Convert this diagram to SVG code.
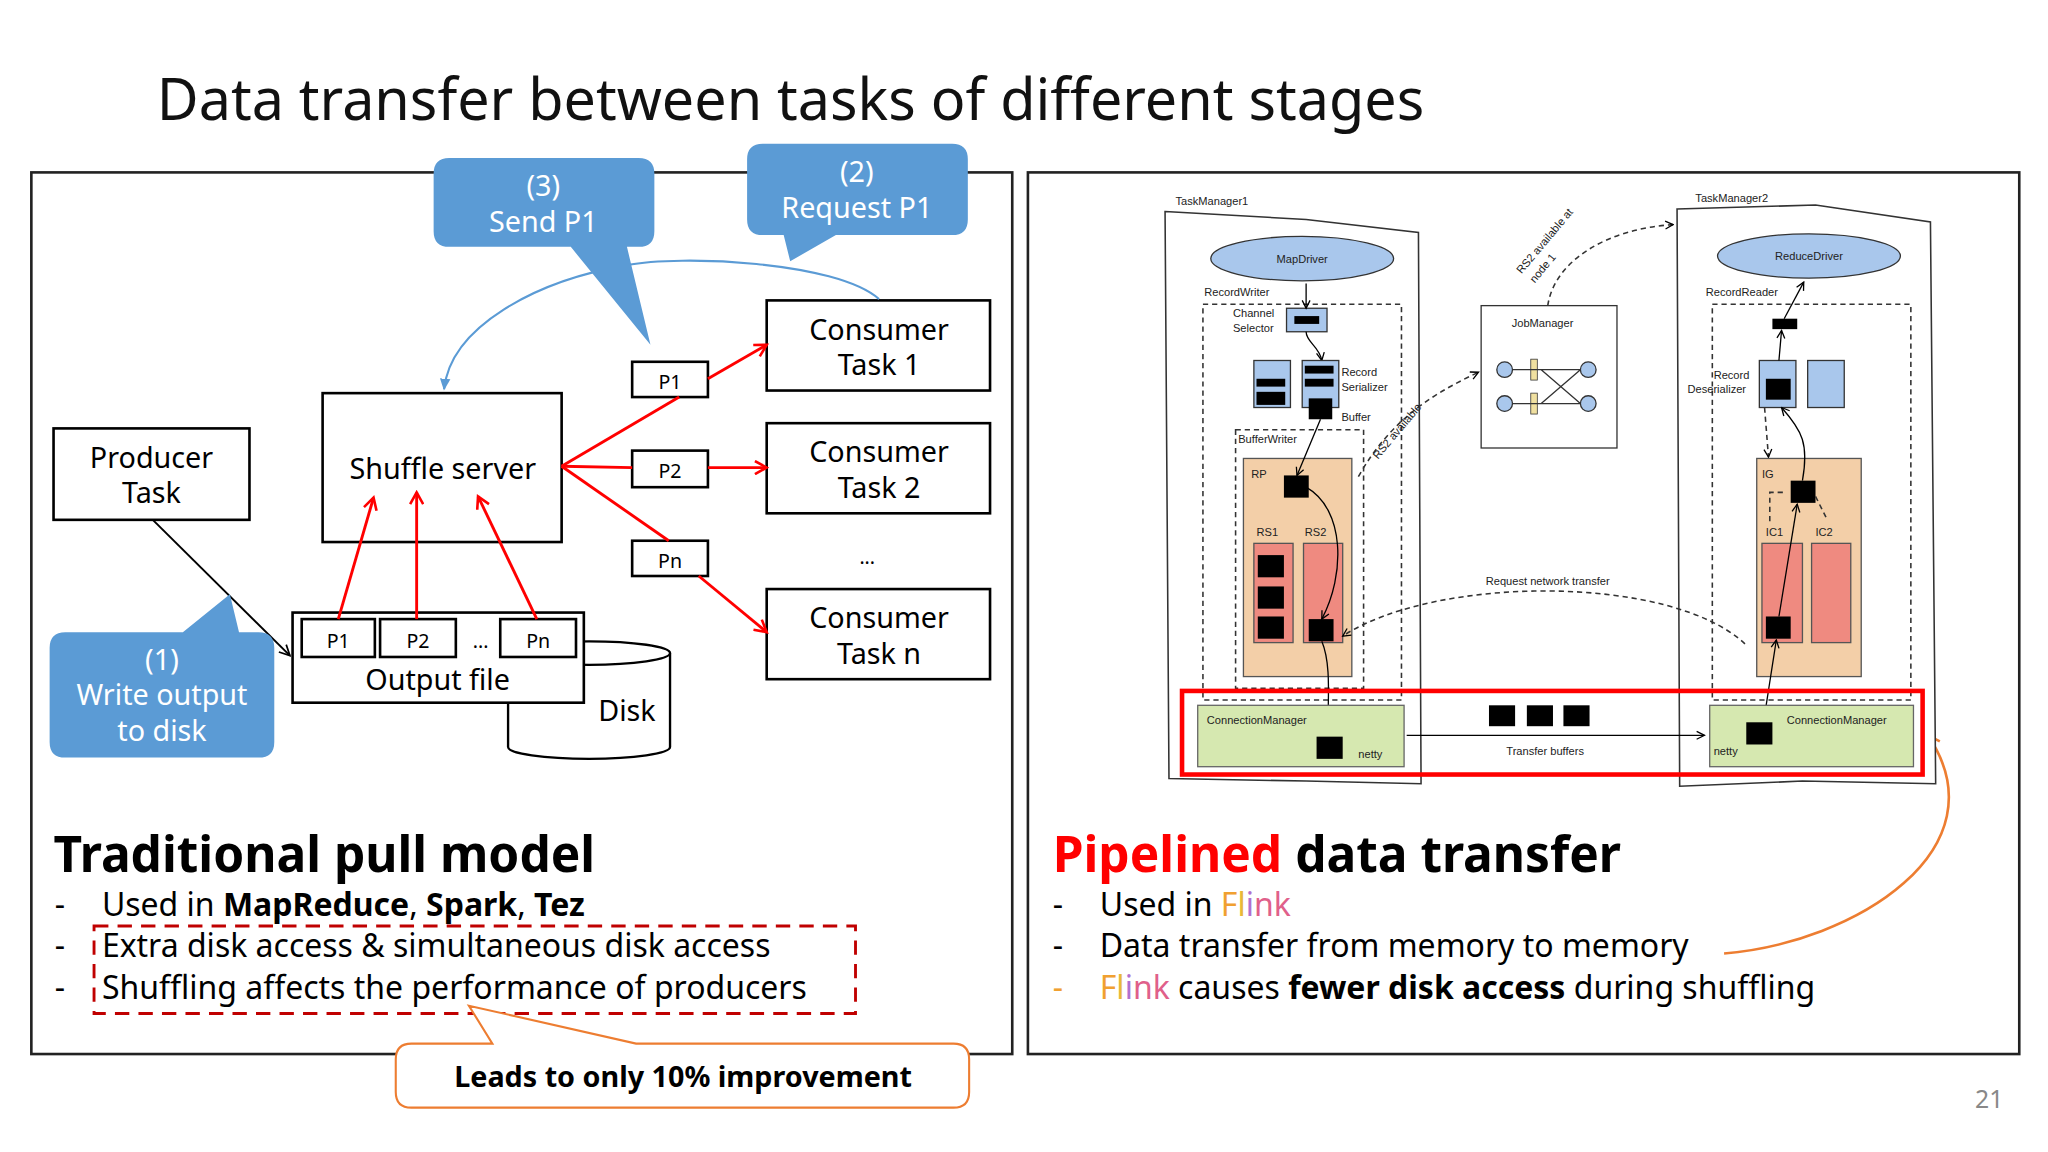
<svg xmlns="http://www.w3.org/2000/svg" width="2048" height="1152" viewBox="0 0 2048 1152">
<defs>
<style>
text{font-family:"Noto Sans","Liberation Sans",sans-serif}
.box{fill:#fff;stroke:#000;stroke-width:2}
.t{font-size:22px;text-anchor:middle}
.sm{font-size:15px;text-anchor:middle}
.red{stroke:#f00;stroke-width:2.2;fill:none}
.call{fill:#5b9bd5}
.ct{fill:#fff;font-size:22px;text-anchor:middle}
.b{font-size:24.5px}
.tiny{font-family:"Liberation Sans",sans-serif;font-size:8.5px;fill:#222}
.dash{fill:none;stroke:#333;stroke-width:1.2;stroke-dasharray:4 3}
.blk{fill:#000}
</style>
<marker id="ra" markerWidth="12" markerHeight="12" refX="10" refY="6" orient="auto" markerUnits="userSpaceOnUse"><path d="M1,1 L10,6 L1,11" fill="none" stroke="#f00" stroke-width="2"/></marker>
<marker id="ka" markerWidth="10" markerHeight="10" refX="9" refY="5" orient="auto" markerUnits="userSpaceOnUse"><path d="M1,1 L9,5 L1,9" fill="none" stroke="#000" stroke-width="1.3"/></marker>
<marker id="sa" markerWidth="8" markerHeight="8" refX="7" refY="4" orient="auto" markerUnits="userSpaceOnUse"><path d="M1,1 L7,4 L1,7" fill="none" stroke="#000" stroke-width="1"/></marker>
<marker id="ba" markerWidth="10" markerHeight="10" refX="8" refY="5" orient="auto" markerUnits="userSpaceOnUse"><path d="M0,1 L9,5 L0,9 z" fill="#5b9bd5"/></marker>
<marker id="oa" markerWidth="12" markerHeight="12" refX="10" refY="6" orient="auto" markerUnits="userSpaceOnUse"><path d="M1,1 L10,6 L1,11" fill="none" stroke="#ed7d31" stroke-width="2"/></marker>
</defs>
<rect width="2048" height="1152" fill="#fff"/>
<g transform="scale(1.30612)">
<text x="120" y="92" font-size="44" fill="#111">Data transfer between tasks of different stages</text>
<rect x="24" y="132" width="751" height="675" fill="none" stroke="#222" stroke-width="2"/>
<rect x="787" y="132" width="759" height="675" fill="none" stroke="#222" stroke-width="2"/>

<g id="producer"><rect x="41" y="328" width="150" height="70" class="box"/><text x="116" y="358" class="t">Producer</text><text x="116" y="385" class="t">Task</text></g>
<g id="shuffle"><rect x="247" y="301" width="183" height="114" class="box"/><text x="339" y="367" class="t">Shuffle server</text></g>
<g id="disk"><path d="M389,500 V572 A62,9 0 0 0 513,572 V500" fill="#fff" stroke="#000" stroke-width="1.8"/><ellipse cx="451" cy="500" rx="62" ry="9" fill="#fff" stroke="#000" stroke-width="1.8"/><text x="480" y="552" class="t">Disk</text></g>
<g id="output"><rect x="224" y="469" width="223" height="69" class="box"/>
<rect x="231" y="474" width="56" height="29" class="box"/><text x="259" y="496" class="sm" font-size="17">P1</text>
<rect x="291" y="474" width="58" height="29" class="box"/><text x="320" y="496" class="sm" font-size="17">P2</text>
<text x="368" y="496" class="sm">...</text>
<rect x="383" y="474" width="58" height="29" class="box"/><text x="412" y="496" class="sm" font-size="17">Pn</text>
<text x="335" y="528" class="t">Output file</text></g>
<g id="p1"><rect x="484" y="277" width="58" height="27" class="box"/><text x="513" y="298" class="sm" font-size="17">P1</text></g>
<g id="p2"><rect x="484" y="345" width="58" height="28" class="box"/><text x="513" y="366" class="sm" font-size="17">P2</text></g>
<g id="pn"><rect x="484" y="414" width="58" height="27" class="box"/><text x="513" y="435" class="sm" font-size="17">Pn</text></g>
<g id="c1"><rect x="587" y="230" width="171" height="69" class="box"/><text x="673" y="260" class="t">Consumer</text><text x="673" y="287" class="t">Task 1</text></g>
<g id="c2"><rect x="587" y="324" width="171" height="69" class="box"/><text x="673" y="354" class="t">Consumer</text><text x="673" y="381" class="t">Task 2</text></g>
<text x="664" y="432" class="sm">...</text>
<g id="cn"><rect x="587" y="451" width="171" height="69" class="box"/><text x="673" y="481" class="t">Consumer</text><text x="673" y="508" class="t">Task n</text></g>

<g id="connectors">
<path d="M673,229 C640,200 520,195 480,203 C410,215 345,250 340,298" fill="none" stroke="#5b9bd5" stroke-width="1.6" marker-end="url(#ba)"/>
<line x1="117" y1="398" x2="222" y2="502" stroke="#000" stroke-width="1.5" marker-end="url(#ka)"/>
<line x1="259" y1="474" x2="286" y2="381" class="red" marker-end="url(#ra)"/>
<line x1="319" y1="474" x2="319" y2="377" class="red" marker-end="url(#ra)"/>
<line x1="411" y1="474" x2="366" y2="380" class="red" marker-end="url(#ra)"/>
<path d="M430,357 L520,304" class="red"/>
<line x1="542" y1="290" x2="587" y2="264" class="red" marker-end="url(#ra)"/>
<line x1="430" y1="357" x2="484" y2="358" class="red"/>
<line x1="542" y1="358" x2="587" y2="358" class="red" marker-end="url(#ra)"/>
<line x1="430" y1="357" x2="512" y2="414" class="red"/>
<line x1="535" y1="441" x2="587" y2="484" class="red" marker-end="url(#ra)"/>
<path d="M1320,730 C1420,722 1535,650 1476,563" fill="none" stroke="#ed7d31" stroke-width="2" marker-end="url(#oa)"/>
</g>

<g id="callout3"><path d="M344,121 H489 Q501,121 501,133 V177 Q501,189 489,189 H480 L498,264 L437,189 H344 Q332,189 332,177 V133 Q332,121 344,121 Z" class="call"/>
<text x="416" y="150" class="ct">(3)</text><text x="416" y="178" class="ct">Send P1</text></g>
<g id="callout2"><path d="M584,110 H729 Q741,110 741,122 V168 Q741,180 729,180 H640 L605,200 L600,180 H584 Q572,180 572,168 V122 Q572,110 584,110 Z" class="call"/>
<text x="656" y="139" class="ct">(2)</text><text x="656" y="167" class="ct">Request P1</text></g>
<g id="callout1"><path d="M50,484 H140 L176,455 L183,484 H198 Q210,484 210,496 V568 Q210,580 198,580 H50 Q38,580 38,568 V496 Q38,484 50,484 Z" class="call"/>
<text x="124" y="513" class="ct">(1)</text><text x="124" y="540" class="ct">Write output</text><text x="124" y="567" class="ct">to disk</text></g>

<g id="left-text">
<text x="41" y="668" font-size="38" font-weight="bold">Traditional pull model</text>
<text x="42" y="701" class="b">-</text><text x="78" y="701" class="b">Used in <tspan font-weight="bold">MapReduce</tspan>, <tspan font-weight="bold">Spark</tspan>, <tspan font-weight="bold">Tez</tspan></text>
<text x="42" y="733" class="b">-</text><text x="78" y="733" class="b">Extra disk access &amp; simultaneous disk access</text>
<text x="42" y="765" class="b">-</text><text x="78" y="765" class="b">Shuffling affects the performance of producers</text>
<rect x="72" y="709" width="583" height="67" fill="none" stroke="#c00000" stroke-width="2.2" stroke-dasharray="11 7"/>
</g>
<g id="note"><path d="M315,799 H377 L359,770 L487,799 H730 Q742,799 742,811 V836 Q742,848 730,848 H315 Q303,848 303,836 V811 Q303,799 315,799 Z" fill="#fff" stroke="#ed7d31" stroke-width="1.6"/>
<text x="523" y="832" text-anchor="middle" font-size="22" font-weight="bold">Leads to only 10% improvement</text></g>

<g id="right-text">
<text x="806" y="668" font-size="38" font-weight="bold"><tspan fill="#f00">Pipelined</tspan> data transfer</text>
<text x="806" y="701" class="b">-</text><text x="842" y="701" class="b">Used in <tspan fill="#f0a030">F</tspan><tspan fill="#e8b838">l</tspan><tspan fill="#b070d0">i</tspan><tspan fill="#e0608a">nk</tspan></text>
<text x="806" y="733" class="b">-</text><text x="842" y="733" class="b">Data transfer from memory to memory</text>
<text x="806" y="765" class="b" fill="#f0a030">-</text><text x="842" y="765" class="b"><tspan fill="#f0a030">F</tspan><tspan fill="#e8b838">l</tspan><tspan fill="#b070d0">i</tspan><tspan fill="#e0608a">nk</tspan> causes <tspan font-weight="bold">fewer disk access</tspan> during shuffling</text>
</g>
<text x="1523" y="848" text-anchor="middle" font-size="19" fill="#888">21</text>

<g id="flink-figure">
<path d="M892,162 L1000,168 L1086,178 L1088,600 L1000,598 L895,596 Z" fill="#fff" stroke="#333" stroke-width="1.2"/>
<text x="900" y="157" class="tiny">TaskManager1</text>
<path d="M1284,160 L1390,157 L1478,170 L1482,600 L1380,598 L1286,602 Z" fill="#fff" stroke="#333" stroke-width="1.2"/>
<text x="1298" y="155" class="tiny">TaskManager2</text>
<ellipse cx="997" cy="198" rx="70" ry="17" fill="#a9c7ec" stroke="#333"/><text x="997" y="201" class="tiny" text-anchor="middle">MapDriver</text>
<ellipse cx="1385" cy="196" rx="70" ry="17" fill="#a9c7ec" stroke="#333"/><text x="1385" y="199" class="tiny" text-anchor="middle">ReduceDriver</text>
<text x="922" y="227" class="tiny">RecordWriter</text>
<rect x="921" y="233" width="152" height="303" class="dash"/>
<text x="1306" y="227" class="tiny">RecordReader</text>
<rect x="1311" y="233" width="152" height="303" class="dash"/>
<text x="944" y="243" class="tiny">Channel</text><text x="944" y="254" class="tiny">Selector</text>
<rect x="985" y="236" width="31" height="18" fill="#a9c7ec" stroke="#333"/><rect x="991" y="242" width="19" height="6" class="blk"/>
<line x1="1000" y1="217" x2="1000" y2="236" stroke="#000" marker-end="url(#sa)"/>
<path d="M1000,254 C1000,262 1010,265 1012,276" fill="none" stroke="#000" marker-end="url(#sa)"/>
<rect x="960" y="276" width="28" height="36" fill="#a9c7ec" stroke="#333"/><rect x="962" y="290" width="22" height="6" class="blk"/><rect x="962" y="300" width="22" height="10" class="blk"/>
<rect x="997" y="276" width="28" height="36" fill="#a9c7ec" stroke="#333"/><rect x="999" y="280" width="22" height="6" class="blk"/><rect x="999" y="290" width="22" height="6" class="blk"/><rect x="1002" y="305" width="18" height="16" class="blk"/>
<text x="1027" y="288" class="tiny">Record</text><text x="1027" y="299" class="tiny">Serializer</text><text x="1027" y="322" class="tiny">Buffer</text>
<rect x="946" y="329" width="98" height="198" class="dash"/>
<text x="948" y="339" class="tiny">BufferWriter</text>
<rect x="952" y="351" width="83" height="167" fill="#f3cfa8" stroke="#555"/>
<text x="958" y="366" class="tiny" fill="#a33">RP</text>
<rect x="983" y="364" width="19" height="17" class="blk"/>
<text x="962" y="410" class="tiny">RS1</text><text x="999" y="410" class="tiny">RS2</text>
<rect x="960" y="416" width="30" height="76" fill="#ef8a80" stroke="#555"/>
<rect x="998" y="416" width="30" height="76" fill="#ef8a80" stroke="#555"/>
<rect x="963" y="425" width="20" height="17" class="blk"/><rect x="963" y="449" width="20" height="17" class="blk"/><rect x="963" y="472" width="20" height="17" class="blk"/>
<rect x="1002" y="474" width="19" height="17" class="blk"/>
<line x1="1011" y1="321" x2="993" y2="364" stroke="#000" marker-end="url(#sa)"/>
<path d="M1000,373 C1030,390 1030,440 1012,474" fill="none" stroke="#000" marker-end="url(#sa)"/>
<path d="M1012,491 C1020,510 1016,540 1017,560" fill="none" stroke="#000" marker-end="url(#sa)"/>
<rect x="1345" y="351" width="80" height="167" fill="#f3cfa8" stroke="#555"/>
<text x="1349" y="366" class="tiny" fill="#a33">IG</text>
<rect x="1371" y="368" width="19" height="17" class="blk"/>
<text x="1352" y="410" class="tiny">IC1</text><text x="1390" y="410" class="tiny">IC2</text>
<rect x="1349" y="416" width="31" height="76" fill="#ef8a80" stroke="#555"/>
<rect x="1387" y="416" width="30" height="76" fill="#ef8a80" stroke="#555"/>
<rect x="1352" y="472" width="19" height="17" class="blk"/>
<rect x="1347" y="276" width="28" height="36" fill="#a9c7ec" stroke="#333"/><rect x="1352" y="290" width="19" height="16" class="blk"/>
<rect x="1384" y="276" width="28" height="36" fill="#a9c7ec" stroke="#333"/>
<text x="1312" y="290" class="tiny">Record</text><text x="1292" y="301" class="tiny">Deserializer</text>
<rect x="1357" y="244" width="19" height="8" class="blk"/>
<line x1="1366" y1="244" x2="1381" y2="216" stroke="#000" marker-end="url(#sa)"/>
<line x1="1362" y1="276" x2="1364" y2="253" stroke="#000" marker-end="url(#sa)"/>
<path d="M1380,368 C1385,340 1380,330 1364,312" fill="none" stroke="#000" marker-end="url(#sa)"/>
<path d="M1351,312 L1354,350" class="dash" marker-end="url(#sa)"/>
<path d="M1362,472 L1376,386" stroke="#000" fill="none" marker-end="url(#sa)"/>
<path d="M1348,567 L1360,490" stroke="#000" fill="none" marker-end="url(#sa)"/>
<path d="M1365,377 H1355 V400" class="dash"/><path d="M1390,380 L1398,396" class="dash"/>
<rect x="1134" y="234" width="104" height="109" fill="#fff" stroke="#333"/>
<text x="1181" y="250" class="tiny" text-anchor="middle">JobManager</text>
<circle cx="1152" cy="283" r="6" fill="#a9c7ec" stroke="#333"/><circle cx="1152" cy="309" r="6" fill="#a9c7ec" stroke="#333"/>
<circle cx="1216" cy="283" r="6" fill="#a9c7ec" stroke="#333"/><circle cx="1216" cy="309" r="6" fill="#a9c7ec" stroke="#333"/>
<rect x="1172" y="275" width="5" height="16" fill="#f0e0a0" stroke="#333" stroke-width=".6"/><rect x="1172" y="301" width="5" height="16" fill="#f0e0a0" stroke="#333" stroke-width=".6"/>
<path d="M1158,283 H1210 M1158,309 H1210 M1180,283 L1210,309 M1180,309 L1210,283" stroke="#333" fill="none"/>
<path d="M1040,365 C1065,320 1100,300 1132,285" class="dash" marker-end="url(#sa)"/>
<text x="1055" y="352" class="tiny" transform="rotate(-50 1055 352)">RS2 available</text>
<path d="M1185,234 C1190,200 1230,175 1281,172" class="dash" marker-end="url(#sa)"/>
<text x="1165" y="210" class="tiny" transform="rotate(-50 1165 210)">RS2 available at</text>
<text x="1175" y="217" class="tiny" transform="rotate(-50 1175 217)">node 1</text>
<path d="M1336,493 C1280,440 1100,440 1028,487" class="dash" marker-end="url(#sa)"/>
<text x="1185" y="448" class="tiny" text-anchor="middle">Request network transfer</text>
<rect x="917" y="540" width="158" height="47" fill="#d6e8b0" stroke="#666"/>
<text x="924" y="554" class="tiny">ConnectionManager</text>
<rect x="1008" y="564" width="20" height="17" class="blk"/><text x="1040" y="580" class="tiny">netty</text>
<rect x="1309" y="540" width="156" height="47" fill="#d6e8b0" stroke="#666"/>
<text x="1368" y="554" class="tiny">ConnectionManager</text>
<rect x="1337" y="553" width="20" height="17" class="blk"/><text x="1312" y="578" class="tiny">netty</text>
<rect x="1140" y="540" width="20" height="16" class="blk"/><rect x="1169" y="540" width="20" height="16" class="blk"/><rect x="1197" y="540" width="20" height="16" class="blk"/>
<line x1="1077" y1="563" x2="1305" y2="563" stroke="#000" marker-end="url(#sa)"/>
<text x="1183" y="578" class="tiny" text-anchor="middle">Transfer buffers</text>
<rect x="905" y="529" width="567" height="64" fill="none" stroke="#f00" stroke-width="3.5"/>
</g>
</g>
</svg>
